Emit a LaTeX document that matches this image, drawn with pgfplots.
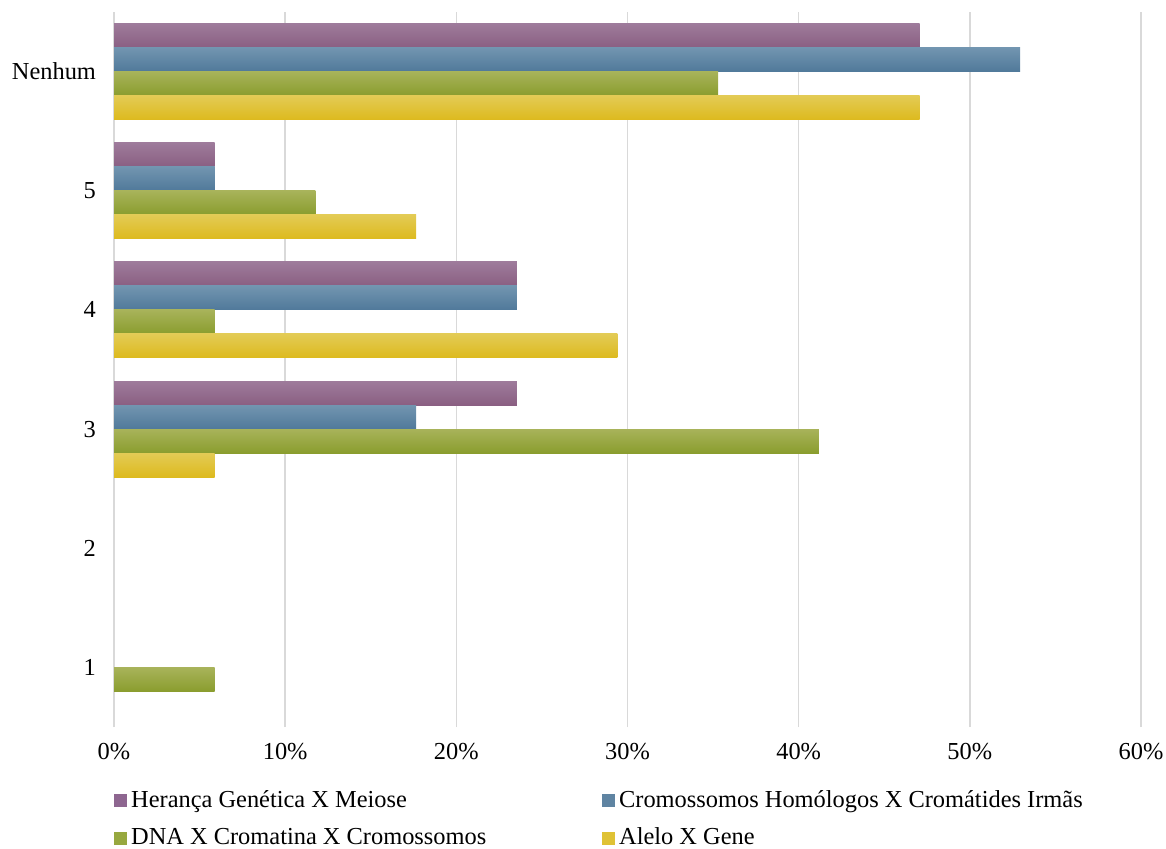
\documentclass[border=0pt]{standalone}
\usepackage{pgfplots}
\pgfplotsset{compat=1.18}
\usepackage{fontspec}
\setmainfont{Liberation Serif}
\definecolor{pT}{HTML}{9E7B9B}\definecolor{pB}{HTML}{8A5F82}\definecolor{pL}{HTML}{8E6690}
\definecolor{bT}{HTML}{7295B0}\definecolor{bB}{HTML}{50799A}\definecolor{bL}{HTML}{5F84A2}
\definecolor{gT}{HTML}{A8B35A}\definecolor{gB}{HTML}{8A9D2E}\definecolor{gL}{HTML}{97A83F}
\definecolor{yT}{HTML}{E3CB55}\definecolor{yB}{HTML}{DDBA1E}\definecolor{yL}{HTML}{DFC235}
\definecolor{gridc}{HTML}{D9D9D9}
\newcommand{\cf}{\fontsize{12.2pt}{14pt}\selectfont}
\pgfplotsset{
  purp/.style={forget plot, draw=none, top color=pT, bottom color=pB, bar shift=18pt},
  blu/.style={forget plot, draw=none, top color=bT, bottom color=bB, bar shift=6pt},
  grn/.style={forget plot, draw=none, top color=gT, bottom color=gB, bar shift=-6pt},
  yel/.style={forget plot, draw=none, top color=yT, bottom color=yB, bar shift=-18pt},
}
\begin{document}
\begin{tikzpicture}
\begin{axis}[
  name=ax,
  scale only axis,
  width=513.5pt, height=357.5pt,
  xbar, bar width=12pt,
  xmin=0, xmax=60,
  ymin=-0.5, ymax=5.5,
  xtick={0,10,...,60},
  xticklabel={\pgfmathprintnumber{\tick}\%},
  ytick={0,1,2,3,4,5},
  yticklabels={1,2,3,4,5,Nenhum},
  /pgf/number format/assume math mode=true,
  tick label style={font=\cf},
  xticklabel style={yshift=-4.5pt},
  yticklabel style={xshift=-5.5pt},
  major tick length=0pt,
  axis line style={draw=none},
  xmajorgrids, grid style={gridc, line width=0.8pt},
  legend columns=2,
  legend cell align=left,
  legend style={draw=none, fill=none, font=\cf, inner sep=0pt,
    at={(0,-0.082)}, anchor=north west,
    /tikz/every even column/.append style={column sep=56pt},
    row sep=5pt},
]
% Heranca Genetica X Meiose
\addplot[purp] coordinates {(47.06,5)};
\addplot[purp] coordinates {(5.88,4)};
\addplot[purp] coordinates {(23.53,3)};
\addplot[purp] coordinates {(23.53,2)};
% Cromossomos Homologos X Cromatides Irmas
\addplot[blu] coordinates {(52.94,5)};
\addplot[blu] coordinates {(5.88,4)};
\addplot[blu] coordinates {(23.53,3)};
\addplot[blu] coordinates {(17.65,2)};
% DNA X Cromatina X Cromossomos
\addplot[grn] coordinates {(35.29,5)};
\addplot[grn] coordinates {(11.76,4)};
\addplot[grn] coordinates {(5.88,3)};
\addplot[grn] coordinates {(41.18,2)};
\addplot[grn] coordinates {(5.88,0)};
% Alelo X Gene
\addplot[yel] coordinates {(47.06,5)};
\addplot[yel] coordinates {(17.65,4)};
\addplot[yel] coordinates {(29.41,3)};
\addplot[yel] coordinates {(5.88,2)};
\addlegendimage{legend image code/.code={\fill[pL] (0pt,-3pt) rectangle (6pt,3pt);}}
\addlegendentry{Herança Genética X Meiose}
\addlegendimage{legend image code/.code={\fill[bL] (0pt,-3pt) rectangle (6pt,3pt);}}
\addlegendentry{Cromossomos Homólogos X Cromátides Irmãs}
\addlegendimage{legend image code/.code={\fill[gL] (0pt,-3pt) rectangle (6pt,3pt);}}
\addlegendentry{DNA X Cromatina X Cromossomos}
\addlegendimage{legend image code/.code={\fill[yL] (0pt,-3pt) rectangle (6pt,3pt);}}
\addlegendentry{Alelo X Gene}
\end{axis}
\pgfresetboundingbox
\path[use as bounding box] ([shift={(-57pt,-60.5pt)}]ax.south west) rectangle ([shift={(526pt,363.5pt)}]ax.south west);
\end{tikzpicture}
\end{document}
